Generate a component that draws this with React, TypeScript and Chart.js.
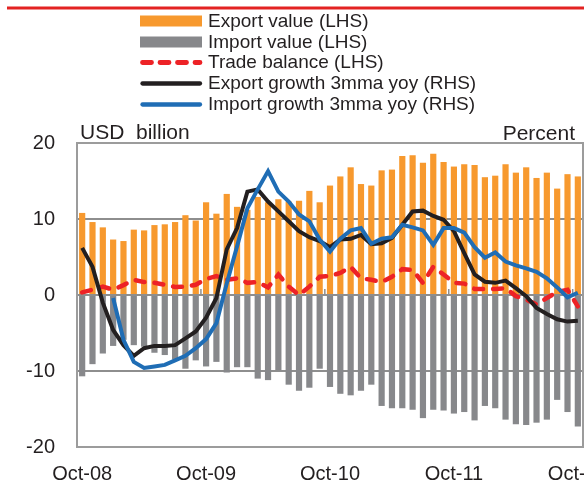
import React, { useEffect, useRef } from "react";
import { Chart, registerables } from "chart.js";

Chart.register(...registerables);

const categories = [
  "Oct-08", "Nov-08", "Dec-08",
  "Jan-09", "Feb-09", "Mar-09", "Apr-09", "May-09", "Jun-09", "Jul-09", "Aug-09", "Sep-09", "Oct-09", "Nov-09", "Dec-09",
  "Jan-10", "Feb-10", "Mar-10", "Apr-10", "May-10", "Jun-10", "Jul-10", "Aug-10", "Sep-10", "Oct-10", "Nov-10", "Dec-10",
  "Jan-11", "Feb-11", "Mar-11", "Apr-11", "May-11", "Jun-11", "Jul-11", "Aug-11", "Sep-11", "Oct-11", "Nov-11", "Dec-11",
  "Jan-12", "Feb-12", "Mar-12", "Apr-12", "May-12", "Jun-12", "Jul-12", "Aug-12", "Sep-12", "Oct-12",
];

const tickLabels = ["Oct-08", "Oct-09", "Oct-10", "Oct-11", "Oct-12"];
const yTicks = [-20, -10, 0, 10, 20];

const exportValue = [
  10.8, 9.6, 8.9, 7.3, 7.1, 8.6, 8.5, 9.2, 9.3, 9.6,
  10.5, 9.8, 12.2, 10.7, 13.3, 11.6, 11.2, 12.9, 12.2, 12.6,
  12.3, 12.4, 13.7, 12.2, 14.4, 15.6, 16.8, 14.6, 14.4, 16.4,
  16.5, 18.3, 18.4, 17.4, 18.6, 17.5, 16.9, 17.2, 17.1, 15.5,
  15.7, 17.2, 16.1, 16.8, 15.4, 16.1, 14.0, 15.9, 15.6,
];

const importValue = [
  -10.7, -9.1, -7.7, -6.7, -5.9, -6.6, -6.8, -7.6, -7.9, -8.5,
  -9.7, -8.6, -9.4, -8.8, -10.2, -9.5, -9.5, -11.0, -11.2, -9.9,
  -11.8, -12.6, -12.2, -9.7, -12.1, -13.0, -13.2, -12.6, -11.8, -14.6,
  -14.9, -14.9, -15.1, -16.2, -15.1, -15.2, -15.6, -15.4, -16.5, -14.6,
  -14.9, -16.4, -17.0, -17.1, -16.8, -16.4, -13.8, -15.4, -17.3,
];

const tradeBalance = [
  0.35, 0.7, 1.1, 0.7, 1.3, 2.0, 1.7, 1.6, 1.35, 1.05,
  1.1, 1.35, 2.1, 2.5, 2.0, 2.2, 1.6, 1.7, 1.0, 2.7,
  1.1, 0.0, 1.1, 2.4, 2.5, 2.9, 3.7, 2.2, 2.0, 1.7,
  2.4, 3.4, 3.3, 1.6, 3.7, 2.7, 1.6, 1.5, 0.8, 0.8,
  0.8, 0.9, -0.15, -0.6, -1.25, -0.4, 0.4, 0.7, -1.5,
];

const exportGrowth = [
  6.2, 3.7, -1.0, -4.6, -6.6, -8.0, -7.0, -6.7, -6.7, -6.6,
  -5.7, -4.8, -3.0, -0.4, 6.0, 8.8, 13.6, 13.9, 12.3, 11.0,
  9.7, 8.4, 7.6, 7.1, 6.3, 7.3, 7.4, 7.9, 6.7, 6.8,
  7.5, 9.25, 11.0, 11.1, 10.4, 9.9, 8.4, 5.5, 2.7, 1.75,
  1.6, 1.9, 0.9, -0.15, -1.7, -2.5, -3.2, -3.5, -3.4,
];

const importGrowth = [
  null, null, null, -0.4, -5.9, -8.8, -9.6, -9.4, -9.2, -8.6,
  -8.0, -7.0, -5.8, -3.7, 1.5, 6.4, 11.4, 13.9, 16.3, 13.6,
  12.3, 10.6, 9.7, 7.3, 5.7, 7.4, 8.5, 8.8, 6.75, 7.4,
  7.6, 9.25, 8.9, 8.5, 6.6, 8.8, 8.8, 8.2, 6.3, 4.9,
  5.6, 4.4, 3.9, 3.5, 3.05, 2.2, 1.0, -0.3, 0.3,
];

const ORANGE = "#f7992e";
const GRAY = "#87888b";
const RED = "#ed2226";
const BLACK = "#231f20";
const BLUE = "#1f6db5";
const GRID = "#8e8e8e";
const FONT = '"Liberation Sans", Arial, sans-serif';

const decorPlugin = {
  id: "decor",
  beforeDatasetsDraw(chart: any) {
    const { ctx, chartArea } = chart;
    ctx.save();
    ctx.strokeStyle = "#9c9c9c";
    ctx.lineWidth = 2;
    ctx.strokeRect(chartArea.left, chartArea.top, chartArea.right - chartArea.left, chartArea.bottom - chartArea.top);
    const xs = chart.scales.x;
    const y0 = chart.scales.y.getPixelForValue(0);
    ctx.strokeStyle = GRID;
    ctx.lineWidth = 1.5;
    categories.forEach((c, i) => {
      if (i > 0 && tickLabels.includes(c)) {
        const x = (xs.getPixelForTick(i - 1) + xs.getPixelForTick(i)) / 2;
        ctx.beginPath();
        ctx.moveTo(x, y0);
        ctx.lineTo(x, y0 - 6);
        ctx.stroke();
      }
    });
    ctx.restore();
  },
  afterDraw(chart: any) {
    const { ctx, chartArea } = chart;
    ctx.save();
    ctx.strokeStyle = "#e32322";
    ctx.lineWidth = 3;
    ctx.beginPath();
    ctx.moveTo(7, 8);
    ctx.lineTo(584, 8);
    ctx.stroke();

    ctx.fillStyle = BLACK;
    ctx.font = `21px ${FONT}`;
    ctx.textBaseline = "alphabetic";
    ctx.textAlign = "left";
    ctx.fillText("USD  billion", chartArea.left + 3, 139);
    ctx.textAlign = "right";
    ctx.fillText("Percent", 575, 140);

    const rows = [21, 42, 62.5, 83.5, 104.5];
    const x0 = 140;
    const x1 = 202;
    chart.data.datasets.forEach((ds: any, i: number) => {
      const y = rows[i];
      if (ds.type === "bar" || !ds.type) {
        ctx.fillStyle = ds.backgroundColor;
        ctx.fillRect(x0, y - 5.5, x1 - x0, 11);
      } else {
        ctx.strokeStyle = ds.borderColor;
        ctx.lineWidth = ds.borderDash ? 4.8 : 4.3;
        ctx.lineCap = "round";
        ctx.setLineDash(ds.borderDash ? [9, 8.5] : []);
        ctx.beginPath();
        ctx.moveTo(x0 + 2.5, y);
        ctx.lineTo(x1 - 2, y);
        ctx.stroke();
        ctx.setLineDash([]);
      }
      ctx.fillStyle = BLACK;
      ctx.font = `19px ${FONT}`;
      ctx.textAlign = "left";
      ctx.textBaseline = "middle";
      ctx.fillText(ds.label, 208, y + 0.5);
    });
    ctx.restore();
  },
};

export default function App() {
  const ref = useRef<HTMLCanvasElement>(null);

  useEffect(() => {
    if (!ref.current) return;
    const chart = new Chart(ref.current, {
      type: "bar",
      data: {
        labels: categories,
        datasets: [
          {
            type: "bar",
            label: "Export value (LHS)",
            data: exportValue,
            backgroundColor: ORANGE,
            barPercentage: 0.6,
            categoryPercentage: 1,
            order: 10,
          },
          {
            type: "bar",
            label: "Import value (LHS)",
            data: importValue,
            backgroundColor: GRAY,
            barPercentage: 0.6,
            categoryPercentage: 1,
            order: 9,
          },
          {
            type: "line",
            label: "Trade balance (LHS)",
            data: tradeBalance,
            borderColor: RED,
            backgroundColor: RED,
            borderWidth: 4.5,
            borderDash: [9, 10],
            borderCapStyle: "round",
            pointRadius: 0,
            tension: 0,
            order: 3,
          },
          {
            type: "line",
            label: "Export growth 3mma yoy (RHS)",
            data: exportGrowth,
            borderColor: BLACK,
            backgroundColor: BLACK,
            borderWidth: 4,
            pointRadius: 0,
            tension: 0,
            order: 2,
          },
          {
            type: "line",
            label: "Import growth 3mma yoy (RHS)",
            data: importGrowth,
            borderColor: BLUE,
            backgroundColor: BLUE,
            borderWidth: 4,
            pointRadius: 0,
            tension: 0,
            spanGaps: false,
            order: 1,
          },
        ] as any,
      },
      options: {
        responsive: false,
        animation: false,
        devicePixelRatio: 1,
        layout: { padding: { top: 143, right: 1, left: 0, bottom: 0 } },
        plugins: {
          legend: { display: false },
          tooltip: { enabled: false },
        },
        scales: {
          x: {
            stacked: true,
            grid: { display: false, drawTicks: false },
            border: { display: false },
            ticks: {
              autoSkip: false,
              maxRotation: 0,
              minRotation: 0,
              padding: 15,
              color: BLACK,
              font: { size: 20, family: FONT },
              callback: (_v: any, i: number) => (tickLabels.includes(categories[i]) ? categories[i] : ""),
            },
            afterFit: (s: any) => {
              s.height = 37;
              s.paddingLeft = 0;
              s.paddingRight = 0;
            },
          },
          y: {
            min: -20,
            max: 20,
            afterBuildTicks: (s: any) => {
              s.ticks = yTicks.map((v) => ({ value: v }));
            },
            grid: { color: GRID, lineWidth: 2, drawTicks: false },
            border: { display: false },
            ticks: {
              padding: 22,
              color: BLACK,
              font: { size: 20, family: FONT },
            },
            afterFit: (s: any) => {
              s.width = 77;
              s.paddingTop = 0;
              s.paddingBottom = 0;
            },
          },
        },
      },
      plugins: [decorPlugin],
    });
    return () => chart.destroy();
  }, []);

  return (
    <div style={{ position: "fixed", left: 0, top: 0, width: 584, height: 484, background: "#fff" }}>
      <canvas ref={ref} width={584} height={484} style={{ width: "584px", height: "484px", display: "block" }} />
    </div>
  );
}
